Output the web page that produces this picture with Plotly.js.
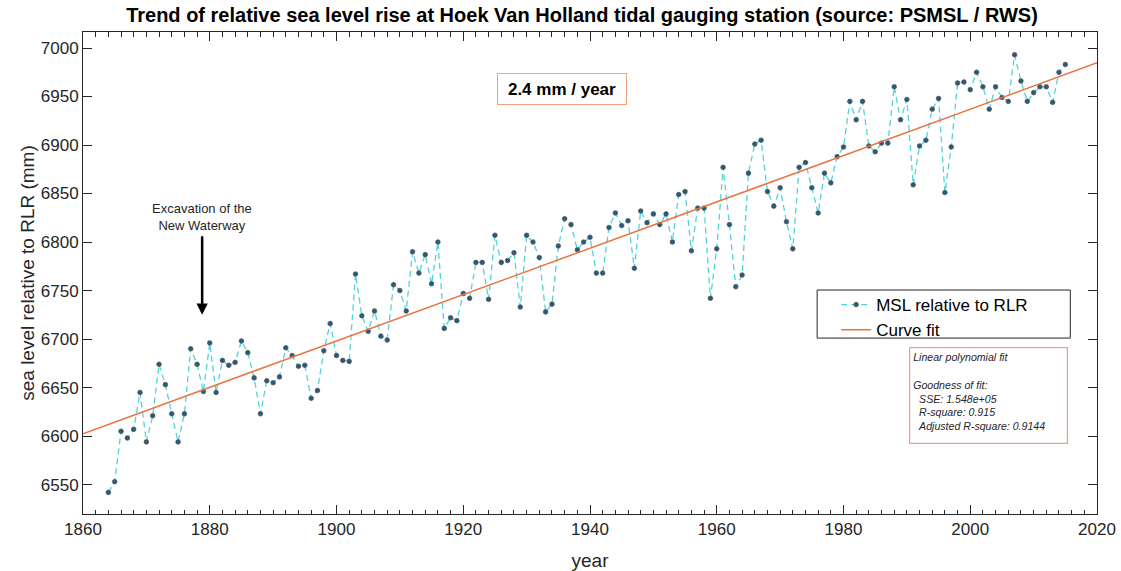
<!DOCTYPE html>
<html>
<head>
<meta charset="utf-8">
<script src="https://cdn.plot.ly/plotly-3.0.1.min.js"></script>
<style>
  html, body { margin: 0; padding: 0; background: #ffffff; }
  #chart { width: 1121px; height: 571px; }
</style>
</head>
<body>
<div id="chart"></div>
<script>
// Annual mean sea level at Hoek van Holland, 1864-2015 (mm, relative to RLR)
const years = [];
for (let y = 1864; y <= 2015; y++) years.push(y);

const mslMm = [
  6542, 6553, 6605, 6598, 6607, 6645, 6594, 6621, 6674, 6653, // 1864-1873
  6623, 6594, 6623, 6690, 6674, 6646, 6696, 6645, 6678, 6673, // 1874-1883
  6676, 6698, 6686, 6660, 6623, 6657, 6655, 6661, 6691, 6683, // 1884-1893
  6672, 6673, 6639, 6647, 6688, 6716, 6683, 6678, 6677, 6767, // 1894-1903
  6724, 6708, 6729, 6703, 6699, 6756, 6750, 6729, 6790, 6768, // 1904-1913
  6787, 6757, 6800, 6711, 6722, 6719, 6747, 6742, 6779, 6779, // 1914-1923
  6741, 6807, 6779, 6781, 6789, 6733, 6807, 6800, 6784, 6728, // 1924-1933
  6736, 6796, 6824, 6818, 6792, 6800, 6805, 6768, 6768, 6815, // 1934-1943
  6830, 6817, 6822, 6773, 6832, 6820, 6829, 6818, 6829, 6800, // 1944-1953
  6849, 6852, 6791, 6835, 6835, 6742, 6793, 6877, 6818, 6754, // 1954-1963
  6766, 6871, 6901, 6905, 6852, 6837, 6856, 6821, 6793, 6877, // 1964-1973
  6882, 6856, 6830, 6871, 6861, 6888, 6898, 6945, 6926, 6945, // 1974-1983
  6899, 6893, 6902, 6902, 6960, 6926, 6947, 6859, 6899, 6905, // 1984-1993
  6937, 6948, 6851, 6898, 6964, 6965, 6957, 6975, 6960, 6937, // 1994-2003
  6960, 6949, 6945, 6993, 6966, 6945, 6954, 6960, 6960, 6944, // 2004-2013
  6975, 6983                                                  // 2014-2015
];

const xTicks = [1860, 1880, 1900, 1920, 1940, 1960, 1980, 2000, 2020];
const yTicks = [6550, 6600, 6650, 6700, 6750, 6800, 6850, 6900, 6950, 7000];
const fitRange = [1860, 2020];

// Ordinary least-squares line through the annual means
function linearFit(xs, ys) {
  const n = xs.length;
  let sx = 0, sy = 0, sxx = 0, sxy = 0;
  for (let i = 0; i < n; i++) {
    sx += xs[i]; sy += ys[i]; sxx += xs[i] * xs[i]; sxy += xs[i] * ys[i];
  }
  const slope = (n * sxy - sx * sy) / (n * sxx - sx * sx);
  const intercept = (sy - slope * sx) / n;
  return { slope, intercept };
}
const fit = linearFit(years, mslMm);
const fitY = fitRange.map(x => fit.intercept + fit.slope * x);

// Plot-area geometry in pixels, used to place boxes in paper coordinates
const W = 1121, H = 571;
const AREA = { l: 83.3, r: 1096.7, t: 32.3, b: 513.7 };
const px2x = px => (px - AREA.l) / (AREA.r - AREA.l);
const px2y = py => (AREA.b - py) / (AREA.b - AREA.t);

const FONT = 'Liberation Sans, Arial, Helvetica, sans-serif';
const INK = '#262626';
const BOX_EDGE = '#f0a07c';

const traces = [
  {
    x: years, y: mslMm,
    type: 'scatter', mode: 'lines+markers',
    name: 'MSL relative to RLR',
    line: { color: '#52d3da', width: 1.3, dash: '6px,4px' },
    marker: { size: 4.6, color: '#225d80', line: { color: '#555555', width: 0.8 } }
  },
  {
    x: fitRange, y: fitY,
    type: 'scatter', mode: 'lines',
    name: 'Curve fit',
    line: { color: '#ea7440', width: 1.5 }
  }
];

const axisCommon = {
  showgrid: false, zeroline: false,
  showline: true, linecolor: INK, linewidth: 1,
  mirror: 'ticks', ticks: 'inside', ticklen: 9, tickwidth: 1, tickcolor: INK,
  tickfont: { family: FONT, size: 17, color: INK }
};

const layout = {
  width: W, height: H,
  paper_bgcolor: '#ffffff', plot_bgcolor: '#ffffff',
  margin: { l: AREA.l, r: W - AREA.r, t: AREA.t, b: H - AREA.b, pad: 0 },
  font: { family: FONT, color: INK },
  showlegend: true,
  title: {
    text: 'Trend of relative sea level rise at Hoek Van Holland tidal gauging station (source: PSMSL / RWS)',
    font: { family: FONT, size: 20, color: '#000000', weight: 'bold' },
    xref: 'paper', x: px2x(582), xanchor: 'center',
    yref: 'container', y: 1 - 15 / H, yanchor: 'middle'
  },
  xaxis: Object.assign({}, axisCommon, {
    range: [1860, 2020],
    tickmode: 'array', tickvals: xTicks, ticktext: xTicks.map(String),
    minor: { ticks: 'inside', ticklen: 4.5, tickwidth: 1, tickcolor: INK, dtick: 2, tick0: 1860 },
    title: { text: 'year', font: { family: FONT, size: 19, color: INK }, standoff: 15 }
  }),
  yaxis: Object.assign({}, axisCommon, {
    range: [6519.7, 7016.5],
    tickmode: 'array', tickvals: yTicks, ticktext: yTicks.map(String),
    title: { text: 'sea level relative to RLR (mm)', font: { family: FONT, size: 19, color: INK }, standoff: 1 }
  }),
  legend: {
    x: px2x(836), y: px2y(287), xanchor: 'left', yanchor: 'top',
    bgcolor: 'rgba(0,0,0,0)', borderwidth: 0,
    font: { family: FONT, size: 17, color: '#000000' },
    traceorder: 'normal'
  },
  shapes: [
    // legend frame with white fill so the data line does not show through
    {
      type: 'rect', xref: 'paper', yref: 'paper', layer: 'above',
      x0: px2x(817), x1: px2x(1070), y0: px2y(338), y1: px2y(290),
      fillcolor: '#ffffff', line: { color: INK, width: 1 }
    }
  ],
  annotations: [
    {
      text: '<b>' + (Math.round(fit.slope * 10) / 10).toFixed(1) + ' mm / year</b>',
      xref: 'paper', yref: 'paper', x: px2x(562), y: px2y(89),
      xanchor: 'center', yanchor: 'middle', showarrow: false,
      font: { family: FONT, size: 17, color: '#000000' },
      width: 124, height: 26, borderpad: 2, borderwidth: 1,
      bordercolor: BOX_EDGE, bgcolor: '#ffffff'
    },
    {
      text: 'Linear polynomial fit<br> <br>Goodness of fit:<br>\u00a0\u00a0SSE: 1.548e+05<br>\u00a0\u00a0R-square: 0.915<br>\u00a0\u00a0Adjusted R-square: 0.9144',
      xref: 'paper', yref: 'paper', x: px2x(909), y: px2y(347),
      xanchor: 'left', yanchor: 'top', align: 'left', valign: 'top', showarrow: false,
      font: { family: FONT, size: 10.6, color: INK, style: 'italic' },
      width: 151, height: 89, borderpad: 3, borderwidth: 1.2,
      bordercolor: BOX_EDGE, bgcolor: '#ffffff'
    },
    {
      text: '', x: 1878.8, y: 6725, xref: 'x', yref: 'y',
      showarrow: true, ax: 0, ay: -80, axref: 'pixel', ayref: 'pixel',
      arrowhead: 2, arrowsize: 0.9, arrowwidth: 2.5, arrowcolor: '#000000', standoff: 0
    },
    {
      text: 'Excavation of the<br>New Waterway',
      xref: 'paper', yref: 'paper', x: px2x(202), y: px2y(217.5),
      xanchor: 'center', yanchor: 'middle', showarrow: false,
      font: { family: FONT, size: 13, color: INK }
    }
  ]
};

Plotly.newPlot('chart', traces, layout, { displayModeBar: false, staticPlot: true });
</script>
</body>
</html>
